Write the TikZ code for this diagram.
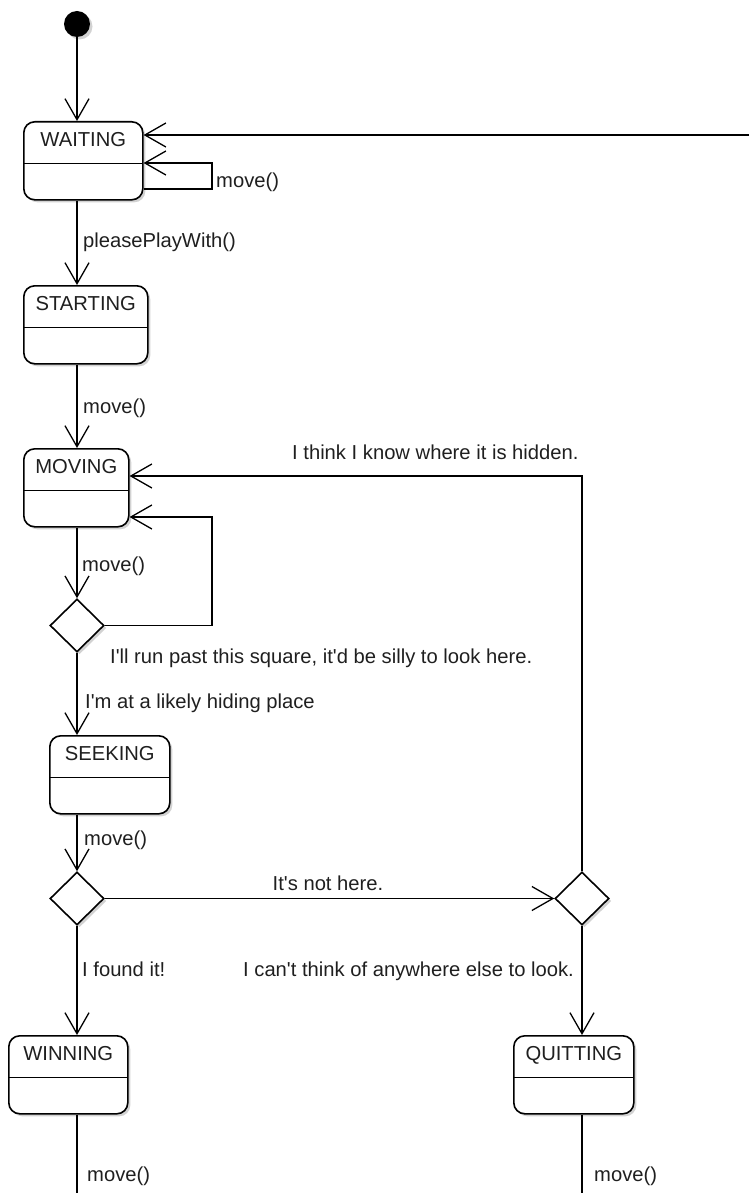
\documentclass[tikz,border=0pt]{standalone}
\usepackage{fontspec}
\newfontfamily\lib{Liberation Sans}
\usetikzlibrary{arrows.meta,shapes.geometric,shadows}
\begin{document}
\begin{tikzpicture}[x=1pt,y=-1pt,
  font=\lib\fontsize{20.2}{24}\selectfont, text=black!88,
  shade/.style={drop shadow={shadow xshift=2.5pt,shadow yshift=-2.5pt,fill=black!35,opacity=0.5}},
  state/.style={draw, line width=1.6pt, rounded corners=11pt, fill=white, inner sep=0pt,
    text height=24.5pt, text depth=53.5pt, anchor=north west, shade,
    path picture={\draw[line width=1.4pt] ([yshift=-41.5pt]path picture bounding box.north west) -- ([yshift=-41.5pt]path picture bounding box.north east);}},
  choice/.style={draw, diamond, line width=1.6pt, fill=white, inner sep=0pt,
    minimum width=54pt, minimum height=53pt, shade},
  arr/.style={line width=1.3pt, -{Straight Barb[length=21pt,width=24pt,line width=1.3pt]}},
  conn/.style={line width=1.3pt},
  lbl/.style={anchor=base west, inner sep=0pt},
]
\useasboundingbox (0,0) rectangle (749,1193);

% initial state
\node[circle, fill=black, minimum size=26pt, inner sep=0pt, shade] (init) at (77,24) {};

% states
\node[state, minimum width=119pt] (waiting) at (23,121) {WAITING};
\node[state, minimum width=124pt] (starting) at (23,285) {STARTING};
\node[state, minimum width=105pt] (moving) at (23,448) {MOVING};
\node[state, minimum width=120pt] (seeking) at (49,735) {SEEKING};
\node[state, minimum width=119pt] (winning) at (8,1035) {WINNING};
\node[state, minimum width=120pt] (quitting) at (513,1035) {QUITTING};

% choices
\node[choice] (d1) at (77,625.5) {};
\node[choice] (d2) at (77,898.5) {};
\node[choice] (d3) at (582,898.5) {};

% routing points
\coordinate (wret) at (749,135);
\coordinate (wl1) at (212,189);
\coordinate (wl2) at (212,163);
\coordinate (mret) at (582,476);
\coordinate (ml) at (212,517);
\coordinate (wend) at (77,1193);
\coordinate (qend) at (582,1193);

% connectors
\draw[arr] (init) -- (init |- waiting.north);
\draw[arr] (wret) -- (wret -| waiting.east);
\draw[arr] (waiting.east |- wl1) -- (wl1) -- (wl2) -- (waiting.east |- wl2);
\draw[arr] (init |- waiting.south) -- (init |- starting.north);
\draw[arr] (init |- starting.south) -- (init |- moving.north);
\draw[arr] (d3.north) -- (d3.north |- mret) -- (mret -| moving.east);
\draw[arr] (init |- moving.south) -- (d1.north);
\draw[arr] (d1.east) -| (ml) -- (ml -| moving.east);
\draw[arr] (d1.south) -- (d1.south |- seeking.north);
\draw[arr] (d1 |- seeking.south) -- (d2.north);
\draw[arr] (d2.east) -- (d3.west);
\draw[arr] (d2.south) -- (d2.south |- winning.north);
\draw[arr] (d3.south) -- (d3.south |- quitting.north);
\draw[conn] (d2 |- winning.south) -- (wend);
\draw[conn] (d3 |- quitting.south) -- (qend);

% labels
\node[lbl] (lwm) at (216,187) {move()};
\node[lbl] (lpp) at (83,247) {pleasePlayWith()};
\node[lbl] (lsm) at (83,413) {move()};
\node[lbl] (lhid) at (292,459) {I think I know where it is hidden.};
\node[lbl] (lmm) at (82,571) {move()};
\node[lbl] (lrun) at (110,663) {I'll run past this square, it'd be silly to look here.};
\node[lbl] (lhide) at (85,708) {I'm at a likely hiding place};
\node[lbl] (lskm) at (84,845) {move()};
\node[lbl, anchor=base] (lnot) at (328,890) {It's not here.};
\node[lbl] (lfound) at (82,976) {I found it!};
\node[lbl, anchor=base east] (lcant) at (574,976) {I can't think of anywhere else to look.};
\node[lbl] (lwin) at (87,1181) {move()};
\node[lbl] (lquit) at (594,1181) {move()};
\end{tikzpicture}
\end{document}
